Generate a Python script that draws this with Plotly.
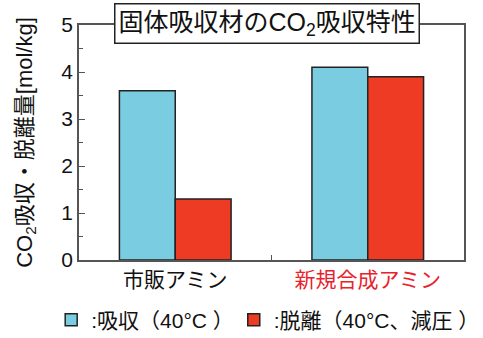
import plotly.graph_objects as go

categories = ["市販アミン", "新規合成アミン"]
category_labels = ["市販アミン", "<span style='color:#e8222b'>新規合成アミン</span>"]
absorb = [3.6, 4.1]
desorb = [1.3, 3.9]
series_names = [":吸収（40°C ）", ":脱離（40°C、減圧 ）"]
colors = ["#7acce0", "#ed3b24"]

FONT = "Liberation Sans, Arial, Noto Sans CJK JP, sans-serif"

fig = go.Figure()
for name, vals, col, lg in zip(series_names, [absorb, desorb], colors, ["legend", "legend2"]):
    fig.add_trace(go.Bar(
        x=categories, y=vals, name=name, legend=lg,
        marker=dict(color=col, line=dict(color="#222222", width=1.5)),
    ))

legend_common = dict(orientation="h", xref="container", yref="container",
                     xanchor="left", y=0.053, yanchor="middle",
                     font=dict(size=21), itemwidth=30, bgcolor="rgba(0,0,0,0)")

fig.update_layout(
    width=483, height=338,
    margin=dict(l=79, r=19, t=25, b=78, autoexpand=False),
    paper_bgcolor="white", plot_bgcolor="white",
    font=dict(family=FONT, size=21, color="#111111"),
    barmode="group", bargap=0.42, bargroupgap=0,
    showlegend=True,
    legend=dict(x=0.106, **legend_common),
    legend2=dict(x=0.484, **legend_common),
    annotations=[dict(
        text="固体吸収材のCO<sub>2</sub>吸収特性", xref="paper", yref="paper",
        x=0.488, y=1.008, xanchor="center", yanchor="middle", showarrow=False,
        bgcolor="white", bordercolor="#222222", borderwidth=1.5, borderpad=3,
        font=dict(size=25, color="#111111"),
    )],
)
fig.update_xaxes(
    type="category", range=[-0.5, 1.5],
    tickvals=categories, ticktext=category_labels,
    tickson="boundaries", ticks="inside", ticklen=5, tickcolor="#555555",
    showline=True, linecolor="#555555", linewidth=1.5, mirror=True,
    showgrid=False, tickfont=dict(size=21),
)
fig.update_yaxes(
    range=[0, 5], dtick=1, ticks="inside", ticklen=6, tickcolor="#555555",
    minor=dict(dtick=0.5, ticks="inside", ticklen=4, tickcolor="#555555"),
    showline=True, linecolor="#555555", linewidth=1.5, mirror=True,
    showgrid=False, zeroline=False, tickfont=dict(size=21),
    title=dict(text="CO<sub>2</sub>吸収・脱離量[mol/kg]", font=dict(size=22), standoff=23),
)

fig.write_html("out.html")
